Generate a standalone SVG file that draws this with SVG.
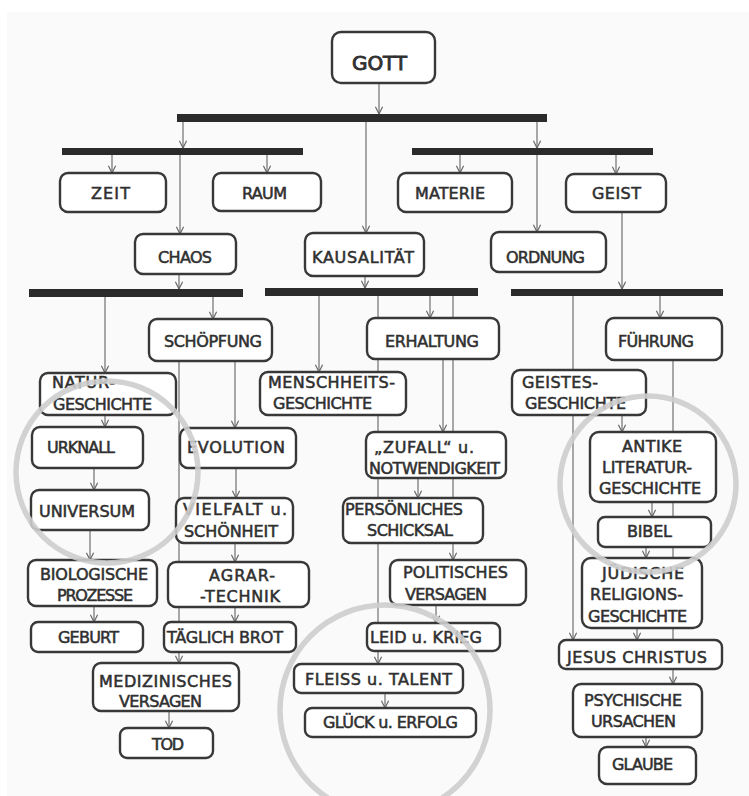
<svg xmlns="http://www.w3.org/2000/svg" width="749" height="796" viewBox="0 0 749 796">
<style>
.b{fill:#fff;stroke:#383838;stroke-width:2.4}
.t{font-family:"DejaVu Sans",sans-serif;font-size:16px;fill:#303030;stroke:#303030;stroke-width:0.55}
.c{fill:none;stroke:#707070;stroke-width:1.2}
.bar{fill:#2b2b2b}
.ring{fill:none;stroke:#cdcdcd;stroke-width:5.5;opacity:0.9}
</style>
<defs>
<marker id="a" viewBox="0 0 10 10" refX="9" refY="5" markerWidth="9" markerHeight="9" markerUnits="userSpaceOnUse" orient="auto"><path d="M1,1 L9,5 L1,9" fill="none" stroke="#666" stroke-width="1.3"/></marker>
</defs>
<rect x="7" y="12" width="742" height="784" fill="#fafafa"/>
<g id="connectors">
<path class="c" d="M379,83 V114" marker-end="url(#a)"/>
<path class="c" d="M183,122 V148" marker-end="url(#a)"/>
<path class="c" d="M537,122 V148" marker-end="url(#a)"/>
<path class="c" d="M366,122 V233" marker-end="url(#a)"/>
<path class="c" d="M112,155 V173" marker-end="url(#a)"/>
<path class="c" d="M267,155 V173" marker-end="url(#a)"/>
<path class="c" d="M460,155 V173" marker-end="url(#a)"/>
<path class="c" d="M616,155 V174" marker-end="url(#a)"/>
<path class="c" d="M180,155 V234" marker-end="url(#a)"/>
<path class="c" d="M537,155 V232" marker-end="url(#a)"/>
<path class="c" d="M179,274 V289" marker-end="url(#a)"/>
<path class="c" d="M365,276 V288" marker-end="url(#a)"/>
<path class="c" d="M622,212 V289" marker-end="url(#a)"/>
<path class="c" d="M105,297 V373" marker-end="url(#a)"/>
<path class="c" d="M213,297 V319" marker-end="url(#a)"/>
<path class="c" d="M179,361 V663" marker-end="url(#a)"/>
<path class="c" d="M235,361 V428" marker-end="url(#a)"/>
<path class="c" d="M236,468 V498" marker-end="url(#a)"/>
<path class="c" d="M235,543 V562" marker-end="url(#a)"/>
<path class="c" d="M235,607 V622" marker-end="url(#a)"/>
<path class="c" d="M169,711 V728" marker-end="url(#a)"/>
<path class="c" d="M105,415 V427" marker-end="url(#a)"/>
<path class="c" d="M94,468 V490" marker-end="url(#a)"/>
<path class="c" d="M90,530 V560" marker-end="url(#a)"/>
<path class="c" d="M94,606 V622" marker-end="url(#a)"/>
<path class="c" d="M319,296 V372" marker-end="url(#a)"/>
<path class="c" d="M378,296 V664" marker-end="url(#a)"/>
<path class="c" d="M430,296 V318" marker-end="url(#a)"/>
<path class="c" d="M453,296 V560" marker-end="url(#a)"/>
<path class="c" d="M443,359 V432" marker-end="url(#a)"/>
<path class="c" d="M418,478 V498" marker-end="url(#a)"/>
<path class="c" d="M436,605 V623" marker-end="url(#a)"/>
<path class="c" d="M385,693 V708" marker-end="url(#a)"/>
<path class="c" d="M573,296 V640" marker-end="url(#a)"/>
<path class="c" d="M660,296 V318" marker-end="url(#a)"/>
<path class="c" d="M673,360 V684" marker-end="url(#a)"/>
<path class="c" d="M622,415 V432" marker-end="url(#a)"/>
<path class="c" d="M652,502 V517" marker-end="url(#a)"/>
<path class="c" d="M646,547 V558" marker-end="url(#a)"/>
<path class="c" d="M637,628 V640" marker-end="url(#a)"/>
<path class="c" d="M646,737 V747" marker-end="url(#a)"/>
</g>
<g id="bars">
<rect class="bar" x="177" y="114" width="370" height="8"/>
<rect class="bar" x="62" y="148" width="241" height="7"/>
<rect class="bar" x="412" y="148" width="241" height="7"/>
<rect class="bar" x="29" y="289" width="214" height="8"/>
<rect class="bar" x="265" y="288" width="213" height="8"/>
<rect class="bar" x="511" y="289" width="212" height="7"/>
</g>
<g id="gott"><rect class="b" x="332" y="32" width="103" height="51" rx="9"/><text class="t" x="352" y="70" style="font-size:20px;stroke-width:0.9" textLength="55">GOTT</text></g>
<g id="zeit"><rect class="b" x="60" y="173" width="106" height="39" rx="8"/><text class="t" x="91" y="199" textLength="39">ZEIT</text></g>
<g id="raum"><rect class="b" x="213" y="173" width="108" height="38" rx="8"/><text class="t" x="242" y="199" textLength="45">RAUM</text></g>
<g id="materie"><rect class="b" x="398" y="173" width="114" height="39" rx="8"/><text class="t" x="415" y="199" textLength="70">MATERIE</text></g>
<g id="geist"><rect class="b" x="566" y="174" width="100" height="38" rx="8"/><text class="t" x="592" y="199" textLength="49">GEIST</text></g>
<g id="chaos"><rect class="b" x="135" y="234" width="101" height="40" rx="8"/><text class="t" x="158" y="263" textLength="54">CHAOS</text></g>
<g id="kausalitaet"><rect class="b" x="305" y="233" width="119" height="43" rx="8"/><text class="t" x="312" y="263" textLength="102">KAUSALITÄT</text></g>
<g id="ordnung"><rect class="b" x="491" y="232" width="115" height="40" rx="8"/><text class="t" x="506" y="263" textLength="79">ORDNUNG</text></g>
<g id="schoepfung"><rect class="b" x="149" y="319" width="123" height="42" rx="8"/><text class="t" x="164" y="347" textLength="98">SCHÖPFUNG</text></g>
<g id="erhaltung"><rect class="b" x="367" y="318" width="132" height="41" rx="8"/><text class="t" x="385" y="347" textLength="94">ERHALTUNG</text></g>
<g id="fuehrung"><rect class="b" x="606" y="318" width="116" height="42" rx="8"/><text class="t" x="618" y="347" textLength="76">FÜHRUNG</text></g>
<g id="naturgeschichte"><rect class="b" x="40" y="373" width="136" height="42" rx="8"/><text class="t" x="52" y="388" textLength="63">NATUR-</text><text class="t" x="53" y="410" textLength="99">GESCHICHTE</text></g>
<g id="menschheitsgeschichte"><rect class="b" x="260" y="372" width="146" height="43" rx="8"/><text class="t" x="268" y="388" textLength="127">MENSCHHEITS-</text><text class="t" x="273" y="409" textLength="99">GESCHICHTE</text></g>
<g id="geistesgeschichte"><rect class="b" x="512" y="370" width="134" height="45" rx="8"/><text class="t" x="522" y="388" textLength="76">GEISTES-</text><text class="t" x="525" y="409" textLength="101">GESCHICHTE</text></g>
<g id="urknall"><rect class="b" x="32" y="427" width="111" height="41" rx="8"/><text class="t" x="47" y="453" textLength="68">URKNALL</text></g>
<g id="evolution"><rect class="b" x="180" y="428" width="116" height="40" rx="8"/><text class="t" x="187" y="453" textLength="98">EVOLUTION</text></g>
<g id="zufall"><rect class="b" x="366" y="432" width="140" height="46" rx="8"/><text class="t" x="374" y="453" textLength="100">„ZUFALL“ u.</text><text class="t" x="369" y="474" textLength="131">NOTWENDIGKEIT</text></g>
<g id="antike"><rect class="b" x="590" y="432" width="126" height="70" rx="9"/><text class="t" x="622" y="452" textLength="60">ANTIKE</text><text class="t" x="602" y="473" textLength="90">LITERATUR-</text><text class="t" x="599" y="494" textLength="102">GESCHICHTE</text></g>
<g id="universum"><rect class="b" x="31" y="490" width="118" height="40" rx="8"/><text class="t" x="39" y="517" textLength="96">UNIVERSUM</text></g>
<g id="vielfalt"><rect class="b" x="176" y="498" width="117" height="45" rx="8"/><text class="t" x="183" y="515" textLength="104">VIELFALT u.</text><text class="t" x="184" y="537" textLength="94">SCHÖNHEIT</text></g>
<g id="persoenliches"><rect class="b" x="343" y="498" width="140" height="45" rx="8"/><text class="t" x="345" y="515" textLength="118">PERSÖNLICHES</text><text class="t" x="367" y="536" textLength="86">SCHICKSAL</text></g>
<g id="bibel"><rect class="b" x="598" y="517" width="113" height="30" rx="7"/><text class="t" x="627" y="537" textLength="45">BIBEL</text></g>
<g id="biologische"><rect class="b" x="28" y="560" width="129" height="46" rx="8"/><text class="t" x="40" y="580" textLength="108">BIOLOGISCHE</text><text class="t" x="57" y="601" textLength="76">PROZESSE</text></g>
<g id="agrartechnik"><rect class="b" x="168" y="562" width="141" height="45" rx="8"/><text class="t" x="209" y="581" textLength="66">AGRAR-</text><text class="t" x="200" y="602" textLength="80">-TECHNIK</text></g>
<g id="politisches"><rect class="b" x="390" y="560" width="136" height="45" rx="8"/><text class="t" x="403" y="578" textLength="105">POLITISCHES</text><text class="t" x="405" y="600" textLength="82">VERSAGEN</text></g>
<g id="juedische"><rect class="b" x="582" y="558" width="120" height="70" rx="9"/><text class="t" x="602" y="579" textLength="82">JÜDISCHE</text><text class="t" x="590" y="600" textLength="93">RELIGIONS-</text><text class="t" x="588" y="622" textLength="99">GESCHICHTE</text></g>
<g id="geburt"><rect class="b" x="31" y="622" width="112" height="30" rx="7"/><text class="t" x="58" y="643" textLength="61">GEBURT</text></g>
<g id="taeglichbrot"><rect class="b" x="164" y="622" width="132" height="30" rx="7"/><text class="t" x="167" y="643" textLength="116">TÄGLICH BROT</text></g>
<g id="leid"><rect class="b" x="367" y="623" width="133" height="28" rx="7"/><text class="t" x="370" y="643" textLength="112">LEID u. KRIEG</text></g>
<g id="jesus"><rect class="b" x="559" y="640" width="163" height="29" rx="7"/><text class="t" x="567" y="663" textLength="140">JESUS CHRISTUS</text></g>
<g id="medizinisches"><rect class="b" x="93" y="663" width="146" height="48" rx="8"/><text class="t" x="99" y="687" textLength="133">MEDIZINISCHES</text><text class="t" x="119" y="707" textLength="83">VERSAGEN</text></g>
<g id="fleiss"><rect class="b" x="294" y="664" width="169" height="29" rx="7"/><text class="t" x="305" y="685" textLength="147">FLEISS u. TALENT</text></g>
<g id="psychische"><rect class="b" x="573" y="684" width="129" height="53" rx="8"/><text class="t" x="584" y="706" textLength="98">PSYCHISCHE</text><text class="t" x="591" y="727" textLength="85">URSACHEN</text></g>
<g id="glueck"><rect class="b" x="305" y="708" width="171" height="29" rx="7"/><text class="t" x="323" y="728" textLength="135">GLÜCK u. ERFOLG</text></g>
<g id="tod"><rect class="b" x="120" y="728" width="93" height="30" rx="7"/><text class="t" x="152" y="750" textLength="32">TOD</text></g>
<g id="glaube"><rect class="b" x="599" y="747" width="97" height="37" rx="8"/><text class="t" x="612" y="770" textLength="61">GLAUBE</text></g>
<g id="rings">
<circle class="ring" cx="107" cy="472" r="91"/>
<circle class="ring" cx="385" cy="710" r="105"/>
<circle class="ring" cx="648" cy="484" r="88"/>
</g>
</svg>
